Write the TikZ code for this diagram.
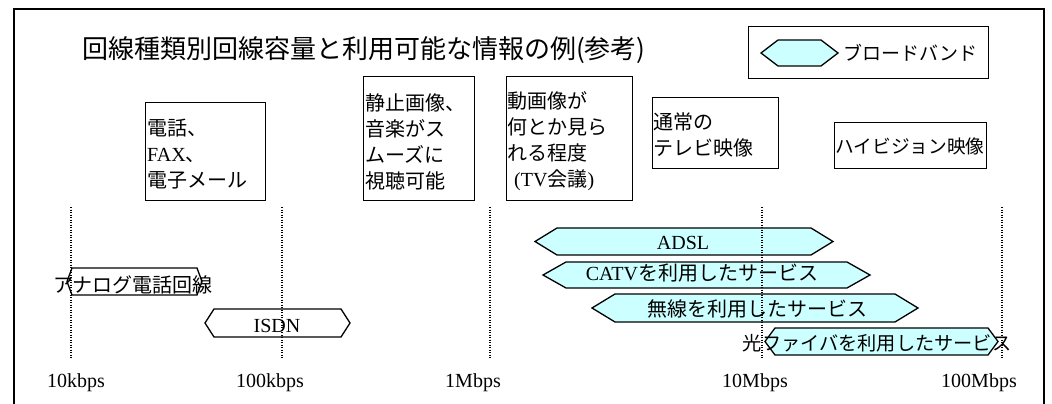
\documentclass[tikz,border=0pt]{standalone}
\usepackage{fontspec}
\setmainfont{Liberation Serif}
\newfontfamily\jp{Noto Sans CJK JP}
\newfontfamily\lat{Liberation Serif}
\definecolor{bandcyan}{RGB}{204,255,255}
\tikzset{
  framebox/.style={draw, line width=1.8pt, inner sep=0pt, anchor=north west},
  box/.style={draw, line width=1.4pt, inner sep=0pt, anchor=north west},
  boxtxt/.style={inner sep=0pt, align=left, font=\jp\fontsize{20}{26}\selectfont},
  jptxt/.style={inner sep=0pt, font=\jp\fontsize{20}{24}\selectfont},
  lattxt/.style={inner sep=0pt, font=\lat\fontsize{20}{24}\selectfont},
  titlest/.style={inner sep=0pt, font=\jp\fontsize{26}{30}\selectfont},
  bandwh/.style={draw, line width=1.3pt, fill=white},
  bandcy/.style={draw, line width=1.3pt, fill=bandcyan},
  gridline/.style={line width=1.2pt, dash pattern=on 1.2pt off 1.3pt},
}
\newcommand\bandhex[6]{%
  \draw[#1] (#2,{(#4+#5)/2}) -- (#2+#6,#4) -- (#3-#6,#4) -- (#3,{(#4+#5)/2})
    -- (#3-#6,#5) -- (#2+#6,#5) -- cycle;}
\begin{document}
\begin{tikzpicture}[x=1pt,y=-1pt]
\useasboundingbox (0,0) rectangle (1052,404);
\fill[white] (0,0) rectangle (1052,404);
\node[framebox, minimum width=1030, minimum height=420] (frame) at (13,8) {};

% title
\node[titlest, anchor=base west] (title) at (82,59) {回線種類別回線容量と利用可能な情報の例(参考)};

% legend
\node[box, minimum width=240, minimum height=52] (legend) at (748,26) {};
\bandhex{bandcy}{761}{838}{40}{66}{17}
\node[inner sep=0pt, font=\jp\fontsize{19}{22}\selectfont, anchor=base west] (legtxt) at (843,60) {ブロードバンド};

% usage boxes
\node[box, minimum width=120, minimum height=98] (b1) at (145,102) {};
\node[boxtxt, anchor=west] (t1) at (147,154) {電話、\\{\lat FAX}、\\電子メール};

\node[box, minimum width=111, minimum height=124] (b2) at (363,76) {};
\node[boxtxt, anchor=west] (t2) at (365,141.5) {静止画像、\\音楽がス\\ムーズに\\視聴可能};

\node[box, minimum width=126, minimum height=124] (b3) at (506,76) {};
\node[boxtxt, anchor=west] (t3) at (507,141.5) {動画像が\\何とか見ら\\れる程度\\\hspace*{7pt}{\lat (TV}会議{\lat )}};

\node[box, minimum width=126, minimum height=71] (b4) at (652,97) {};
\node[boxtxt, anchor=west] (t4) at (653,135) {通常の\\テレビ映像};

\node[box, minimum width=152, minimum height=46] (b5) at (834,122) {};
\node[inner sep=0pt, font=\jp\fontsize{18.7}{22}\selectfont] (t5) at (910,146) {ハイビジョン映像};

% bands
\bandhex{bandwh}{67}{202}{268}{295}{5}
\node[jptxt, anchor=base] (analog) at (133,292) {アナログ電話回線};
\bandhex{bandwh}{205}{350}{309}{337}{9}
\node[lattxt, anchor=base] (isdn) at (277,332) {ISDN};
\bandhex{bandcy}{535}{833}{228}{255}{22}
\node[lattxt, anchor=base] (adsl) at (683,249) {ADSL};
\bandhex{bandcy}{543}{870}{262}{288}{23}
\node[lattxt, anchor=base] (catv) at (702,280) {CATV{\jp を利用したサービス}};
\bandhex{bandcy}{592}{918}{294}{322}{23}
\node[jptxt, anchor=base] (musen) at (757,316) {無線を利用したサービス};
\bandhex{bandcy}{765}{998}{328}{355}{10}
\node[inner sep=0pt, font=\jp\fontsize{19.2}{22}\selectfont, anchor=base] (hikari) at (877,350) {光ファイバを利用したサービス};

% axis labels
\node[lattxt, anchor=base] (l1) at (76,387) {10kbps};
\node[lattxt, anchor=base] (l2) at (270,387) {100kbps};
\node[lattxt, anchor=base] (l3) at (473,387) {1Mbps};
\node[lattxt, anchor=base] (l4) at (755,387) {10Mbps};
\node[lattxt, anchor=base] (l5) at (979,387) {100Mbps};

% grid lines
\foreach \gx/\gn in {71/g1,282/g2,490/g3,762/g4,1002/g5}{
  \coordinate (\gn t) at (\gx,207);
  \coordinate (\gn b) at (\gx,358);
  \draw[gridline] (\gn t) -- (\gn b);
}
\end{tikzpicture}
\end{document}
